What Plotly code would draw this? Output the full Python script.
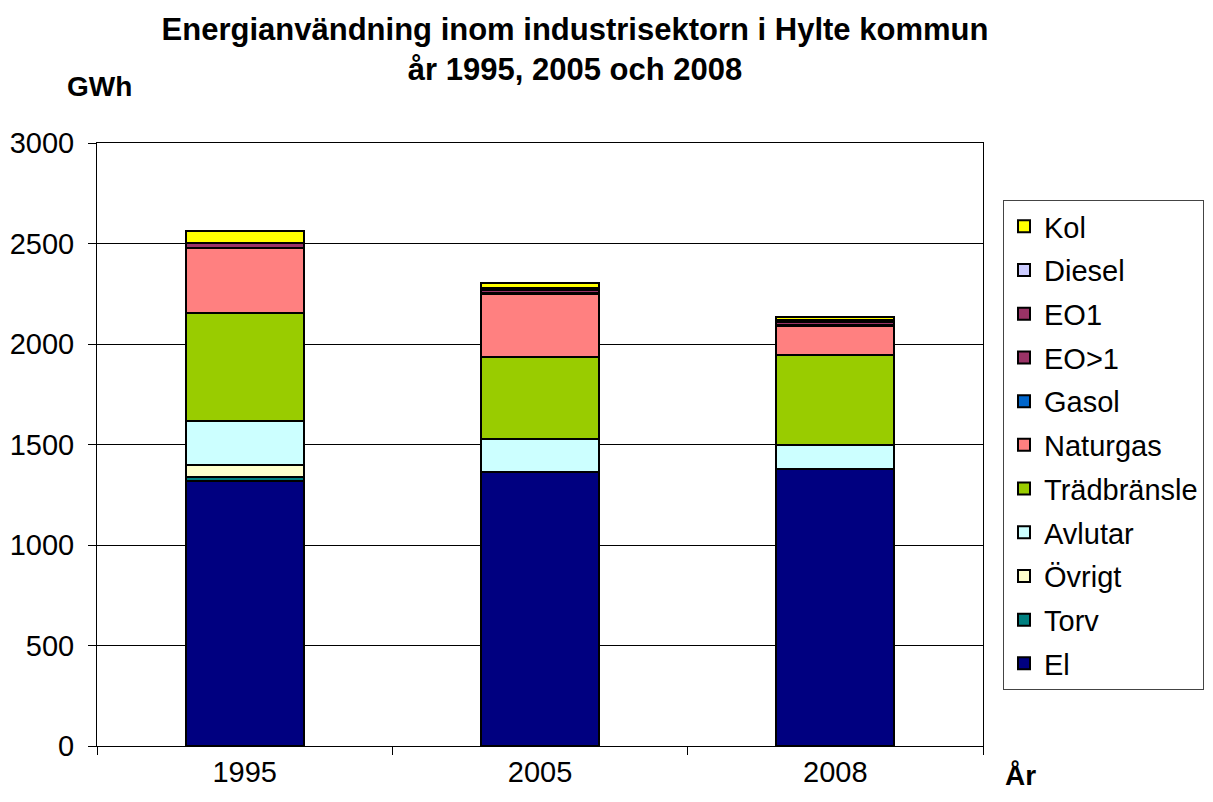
import plotly.graph_objects as go

years = ["1995", "2005", "2008"]
el = [1320, 1362, 1378]
torv = [18, 0, 0]
ovrigt = [60, 0, 0]
avlutar = [220, 167, 119]
tradbransle = [536, 406, 448]
naturgas = [326, 314, 145]
gasol = [0, 5, 5]
eo_gt1 = [22, 15, 15]
eo1 = [0, 10, 8]
diesel = [0, 2, 2]
kol = [58, 22, 16]

series = [
    ("El", el, "#000080"),
    ("Torv", torv, "#008080"),
    ("Övrigt", ovrigt, "#FFFFCC"),
    ("Avlutar", avlutar, "#CCFFFF"),
    ("Trädbränsle", tradbransle, "#99CC00"),
    ("Naturgas", naturgas, "#FF8080"),
    ("Gasol", gasol, "#0066CC"),
    ("EO>1", eo_gt1, "#993366"),
    ("EO1", eo1, "#993366"),
    ("Diesel", diesel, "#CCCCFF"),
    ("Kol", kol, "#FFFF00"),
]

O = 8  # page offset of the figure in the browser
L, R, T, B = 97 - O, 983 - O, 143 - O, 746 - O
W, H = 1213, 802

def px(x):
    return (x - O - L) / (R - L)

def py(y):
    return (B - (y - O)) / (B - T)

fig = go.Figure()
n = len(series)
for i, (name, vals, col) in enumerate(series):
    fig.add_trace(go.Bar(
        x=years, y=vals, name=name, legendgroup=name, legendrank=n - i,
        marker=dict(color=col, line=dict(color="black", width=2)),
    ))

font = "Liberation Sans, Arial, sans-serif"
fig.update_layout(
    barmode="stack",
    bargap=0.6,
    width=W, height=H,
    margin=dict(l=L, r=W - R, t=T, b=H - B, autoexpand=False),
    paper_bgcolor="white", plot_bgcolor="white",
    font=dict(family=font, size=29, color="black"),
    title=dict(
        text="<b>Energianvändning inom industrisektorn i Hylte kommun<br>år 1995, 2005 och 2008</b>",
        x=(575 - O) / W, xanchor="center", y=1 - 32 / H, yanchor="middle",
        font=dict(size=31, family=font, color="black"),
    ),
    showlegend=True,
    legend=dict(
        x=px(1003), xanchor="left",
        y=py(200), yanchor="top",
        bordercolor="#444444", borderwidth=1,
        font=dict(size=29, family=font),
        traceorder="grouped",
        tracegroupgap=3,
        itemwidth=30,
    ),
    xaxis=dict(
        type="category",
        showline=True, linecolor="black", linewidth=1, mirror=True,
        ticks="outside", ticklen=8, tickcolor="black", tickson="boundaries",
        tickfont=dict(size=29, family=font),
    ),
    yaxis=dict(
        range=[0, 3000], dtick=500,
        showline=True, linecolor="black", linewidth=1, mirror=True,
        showgrid=True, gridcolor="black", gridwidth=1,
        ticks="outside", ticklen=8, tickcolor="black",
        ticklabelstandoff=8,
        tickfont=dict(size=29, family=font),
        zeroline=False,
    ),
    annotations=[
        dict(text="<b>GWh</b>", x=px(65), y=py(87), xref="paper", yref="paper",
             xanchor="left", yanchor="middle", showarrow=False,
             font=dict(size=28, family=font)),
        dict(text="<b>År</b>", x=px(1003), y=py(775), xref="paper", yref="paper",
             xanchor="left", yanchor="middle", showarrow=False,
             font=dict(size=28, family=font)),
    ],
)
fig.write_html("out.html")
